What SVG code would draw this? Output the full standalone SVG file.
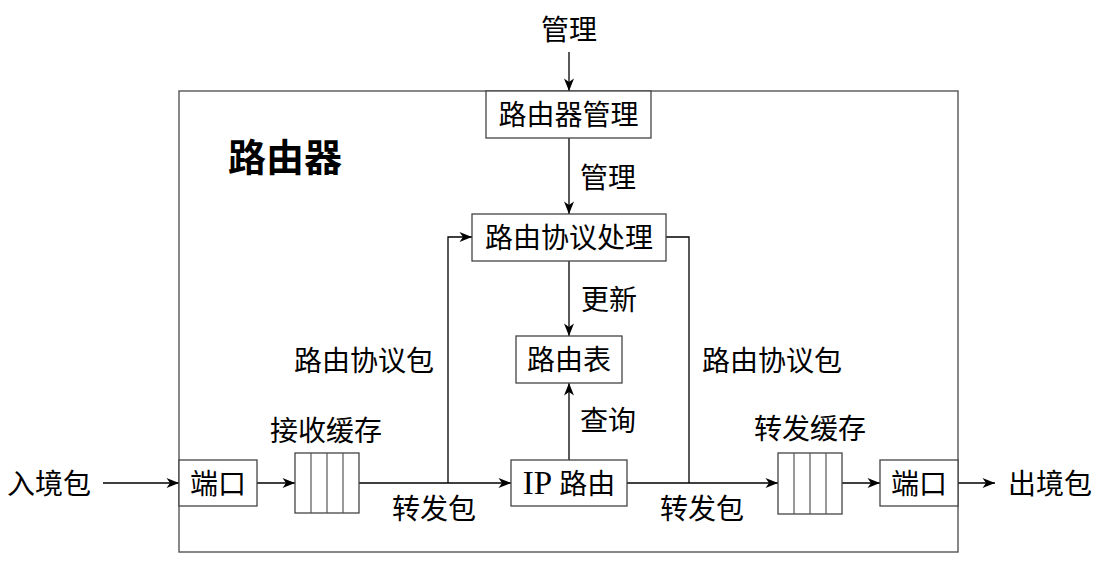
<svg xmlns="http://www.w3.org/2000/svg" width="1112" height="582" viewBox="0 0 1112 582">
  <style>
    .t { font-family: "Liberation Serif", "Noto Sans CJK SC", serif; font-size: 28px; fill: #000; }
    .lat { font-size: 33px; }
    .title { font-family: "Liberation Serif", "Noto Sans CJK SC", serif; font-size: 38px; font-weight: bold; fill: #000; }
    .box { fill: #fff; stroke: #444; stroke-width: 1.3; }
    .frame { fill: none; stroke: #555; stroke-width: 1.4; }
    .div { stroke: #555; stroke-width: 1.2; }
    .c { fill: none; stroke: #000; stroke-width: 1.3; }
    .ca { fill: none; stroke: #000; stroke-width: 1.3; marker-end: url(#arr); }
  </style>
  <defs>
    <marker id="arr" viewBox="-13 -6 14 12" markerWidth="14" markerHeight="12" refX="0" refY="0" orient="auto" markerUnits="userSpaceOnUse">
      <path d="M0,0 L-12.5,-5 L-9,0 L-12.5,5 Z" fill="#000"/>
    </marker>
  </defs>
  <rect width="1112" height="582" fill="#fff"/>

  <g id="router-frame">
    <rect class="frame" x="179" y="91" width="779" height="461"/>
    <text class="title" x="285" y="171" text-anchor="middle">路由器</text>
  </g>

  <g id="connectors">
    <line class="ca" x1="569" y1="52" x2="569" y2="91"/>
    <line class="ca" x1="569" y1="138" x2="569" y2="214"/>
    <line class="ca" x1="569" y1="261" x2="569" y2="336"/>
    <line class="ca" x1="569" y1="460" x2="569" y2="383"/>
    <line class="ca" x1="103" y1="483" x2="179" y2="483"/>
    <line class="ca" x1="257" y1="483" x2="295" y2="483"/>
    <line class="ca" x1="359" y1="483" x2="511" y2="483"/>
    <polyline class="ca" points="448,483 448,237 472,237"/>
    <line class="ca" x1="627" y1="483" x2="778" y2="483"/>
    <polyline class="c" points="666,237 689,237 689,483"/>
    <line class="ca" x1="842" y1="483" x2="880" y2="483"/>
    <line class="ca" x1="958" y1="483" x2="995" y2="483"/>
    <text class="t" x="569" y="40" text-anchor="middle">管理</text>
    <text class="t" x="580" y="188">管理</text>
    <text class="t" x="581" y="310">更新</text>
    <text class="t" x="580" y="431">查询</text>
    <text class="t" x="364" y="371" text-anchor="middle">路由协议包</text>
    <text class="t" x="772" y="371" text-anchor="middle">路由协议包</text>
    <text class="t" x="434" y="519" text-anchor="middle">转发包</text>
    <text class="t" x="702" y="519" text-anchor="middle">转发包</text>
    <text class="t" x="49" y="494" text-anchor="middle">入境包</text>
    <text class="t" x="1050" y="494" text-anchor="middle">出境包</text>
  </g>

  <g id="router-mgmt">
    <rect class="box" x="486" y="91" width="165" height="47"/>
    <text class="t" x="568.5" y="125" text-anchor="middle">路由器管理</text>
  </g>

  <g id="protocol-proc">
    <rect class="box" x="472" y="214" width="194" height="47"/>
    <text class="t" x="569" y="248" text-anchor="middle">路由协议处理</text>
  </g>

  <g id="routing-table">
    <rect class="box" x="516" y="336" width="106" height="47"/>
    <text class="t" x="569" y="370" text-anchor="middle">路由表</text>
  </g>

  <g id="ip-routing">
    <rect class="box" x="511" y="460" width="116" height="46"/>
    <text class="t" x="569" y="494" text-anchor="middle"><tspan class="lat">IP</tspan> 路由</text>
  </g>

  <g id="port-in">
    <rect class="box" x="179" y="460" width="78" height="46"/>
    <text class="t" x="218" y="494" text-anchor="middle">端口</text>
  </g>

  <g id="recv-buffer">
    <rect class="box" x="295" y="453" width="64" height="60"/>
    <line class="div" x1="311" y1="453" x2="311" y2="513"/>
    <line class="div" x1="327" y1="453" x2="327" y2="513"/>
    <line class="div" x1="343" y1="453" x2="343" y2="513"/>
    <text class="t" x="326" y="441" text-anchor="middle">接收缓存</text>
  </g>

  <g id="fwd-buffer">
    <rect class="box" x="778" y="453" width="64" height="61"/>
    <line class="div" x1="794" y1="453" x2="794" y2="514"/>
    <line class="div" x1="810" y1="453" x2="810" y2="514"/>
    <line class="div" x1="826" y1="453" x2="826" y2="514"/>
    <text class="t" x="810" y="439" text-anchor="middle">转发缓存</text>
  </g>

  <g id="port-out">
    <rect class="box" x="880" y="460" width="78" height="46"/>
    <text class="t" x="919" y="494" text-anchor="middle">端口</text>
  </g>
</svg>
